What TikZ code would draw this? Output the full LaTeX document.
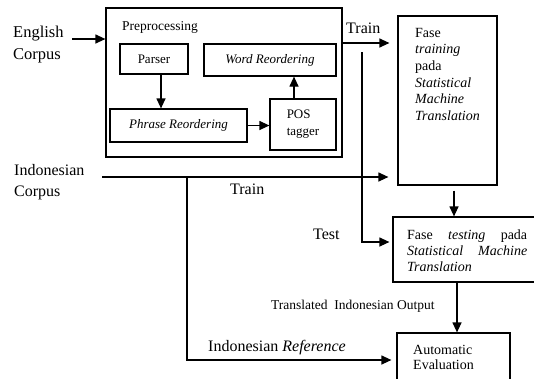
\documentclass[tikz,border=0pt]{standalone}
\usepackage{fontspec}
\setmainfont{Liberation Serif}
\usetikzlibrary{arrows.meta,calc}
\newcommand\myfs[2]{\fontsize{#1}{#2}\selectfont}
\begin{document}
\begin{tikzpicture}[x=1pt,y=-1pt,
  box/.style={draw,line width=1.2pt,inner sep=0pt},
  lbl/.style={inner sep=0pt,font=\myfs{16}{21}},
  small/.style={font=\myfs{13}{17}},
  arr/.style={draw,line width=1.2pt,-{Triangle[length=10pt,width=9pt]}},
  ln/.style={draw,line width=1.2pt}]
\useasboundingbox (0,0) rectangle (534,378);
\clip (0,0) rectangle (534,378);
% boxes
\node[box,minimum width=236pt,minimum height=149pt] (pre) at (224,82.5) {};
\node[inner sep=0pt,anchor=base west,font=\myfs{13.5}{16}] (pretitle) at (122,30) {Preprocessing};
\node[box,small,minimum width=68pt,minimum height=30pt] (parser) at (154,59) {Parser};
\node[box,small,minimum width=132pt,minimum height=32pt] (word) at (270,60) {\textit{Word Reordering}};
\node[box,small,minimum width=137pt,minimum height=33pt] (phrase) at (178.5,125.5) {\textit{Phrase Reordering}};
\node[box,small,align=left,minimum width=66pt,minimum height=51pt] (pos) at (303,124.5) {POS\\tagger};
\node[box,minimum width=99pt,minimum height=169pt] (train) at (447.5,100.5) {};
\node[inner sep=0pt,anchor=north west,align=left,font=\myfs{14}{16.6}] (traintext) at (415,28)
  {Fase\\\textit{training}\\pada\\\textit{Statistical}\\\textit{Machine}\\\textit{Translation}};
\node[box,minimum width=147pt,minimum height=65pt] (test) at (466.5,249.5) {};
\node[inner sep=0pt,anchor=north west,text width=120pt,align=justify,font=\myfs{14}{16}] (testtext) at (407,230)
  {Fase \textit{testing} pada\linebreak \textit{Statistical Machine}\linebreak \textit{Translation}};
\node[box,minimum width=113pt,minimum height=54pt] (eval) at (453.5,360) {};
\node[inner sep=0pt,anchor=north west,align=left,font=\myfs{14}{15}] (evaltext) at (413,345) {Automatic\\Evaluation};
% labels
\node[lbl,anchor=north west,align=left,font=\myfs{16.5}{22}] (ec) at (13,26) {English\\Corpus};
\node[lbl,anchor=north west,align=left] (ic) at (14,164) {Indonesian\\Corpus};
\node[lbl,anchor=base west] (trainlbl1) at (346,33) {Train};
\node[lbl,anchor=base west] (trainlbl2) at (230,194) {Train};
\node[lbl,anchor=base west] (testlbl) at (313,239) {Test};
\node[inner sep=0pt,anchor=base west,font=\myfs{13.5}{16}] (outlbl) at (271,309) {Translated\ \ Indonesian Output};
\node[lbl,anchor=base west] (reflbl) at (208,351) {Indonesian \textit{Reference}};
% coordinates
\coordinate (ecA) at (72,39);
\coordinate (icA) at (102,177);
\coordinate (trainY) at (0,43);
\coordinate (brTop) at (187,177);
\coordinate (testTop) at (362,52);
\coordinate (tb) at ($(train.south)+(6.5,0)$);
\coordinate (tsb) at ($(eval.north)+(3.5,0)$);
\coordinate (pp) at ($(parser.south)+(7,0)$);
\coordinate (pw) at ($(pos.north)+(-9,0)$);
% connectors
\draw[arr] (ecA) -- (ecA -| pre.west);
\draw[arr,shorten >=8pt] (pre.east |- trainY) -- (train.west |- trainY);
\draw[arr,shorten >=9pt] (icA) -- (icA -| train.west);
\draw[arr,shorten >=5pt] (brTop) |- (eval.west);
\draw[arr,shorten >=3pt] (testTop) |- ($(test.west)+(0,-7.5)$);
\draw[arr,shorten <=5pt] (tb) -- (tb |- test.north);
\draw[arr] (tsb |- test.south) -- (tsb);
\draw[arr] (pp) -- (pp |- phrase.north);
\draw[arr] (phrase.east) -- (phrase.east -| pos.west);
\draw[arr] (pw) -- (pw |- word.south);
\end{tikzpicture}
\end{document}
